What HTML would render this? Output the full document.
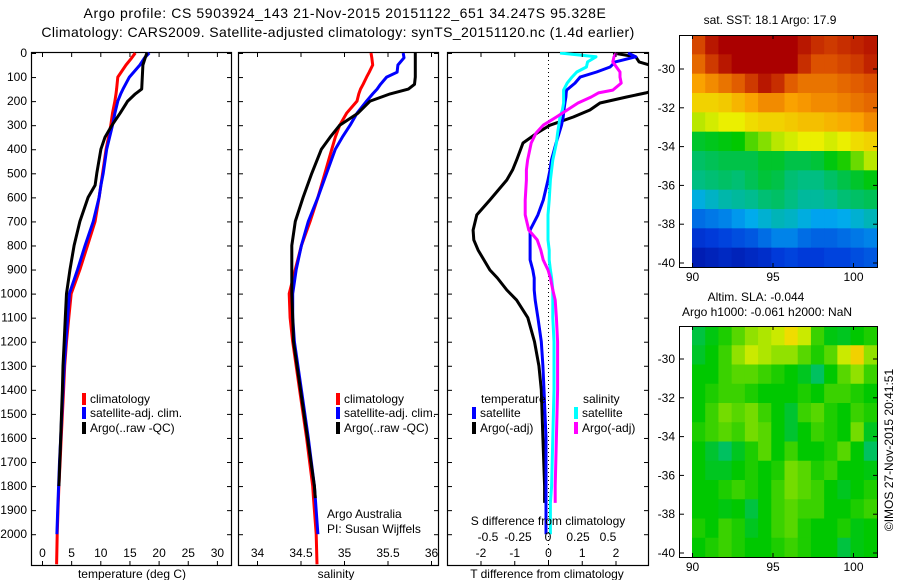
<!DOCTYPE html>
<html><head><meta charset="utf-8"><style>
body{margin:0;background:#fff;width:900px;height:580px;overflow:hidden}
svg{display:block;font-family:"Liberation Sans",sans-serif}
</style></head><body>
<svg id="c" width="900" height="580" viewBox="0 0 900 580"></svg>
<script>
// ---------------- DATA ----------------
const depthT = [0,20,50,100,150,170,200,250,300,350,400,500,550,600,700,800,900,1000,1100,1200,1300,1400,1500,1600,1700,1800,1900,2000,2125];
const tempClim = [16,15.4,14.4,13,12.8,12.7,12.5,12.1,11.8,11.4,11,10.4,10.1,9.8,9.1,7.8,6.5,5.0,4.6,4.2,3.9,3.7,3.5,3.3,3.1,2.9,2.75,2.6,2.5];
const tempSat = [18.4,17.6,16.8,15,13.9,13.5,13,12.5,12.1,11.6,11.1,10.5,10.1,9.8,8.8,7.4,6.1,4.7,4.4,4.1,3.8,3.6,3.4,3.2,3.0,2.85,2.7,2.55,null];
const tempArgo = [18,17.7,17.3,17.2,17.1,16,14.7,13.4,12,10.8,10.1,9.4,9.1,7.9,6.5,5.5,4.8,4.2,4.0,3.8,3.6,3.5,3.35,3.2,3.05,2.9,null,null,null];
const depthS = [0,20,50,80,100,130,150,170,200,250,300,350,400,500,600,700,800,900,1000,1100,1200,1400,1600,1800,1850,2000,2125];
const salClim = [35.31,35.32,35.33,35.29,35.26,35.22,35.19,35.17,35.15,35.03,34.95,34.9,34.86,34.78,34.70,34.61,34.51,34.44,34.37,34.38,34.41,34.49,34.57,34.64,34.65,34.68,34.69];
const salSat = [35.68,35.69,35.62,35.61,35.49,35.42,35.38,35.33,35.26,35.15,35.07,34.98,34.9,34.80,34.70,34.59,34.51,34.45,34.41,34.41,34.43,34.51,34.59,34.66,34.67,34.7,null];
const salArgo = [35.82,35.82,35.82,35.82,35.82,35.81,35.74,35.53,35.3,35.16,34.95,34.84,34.74,34.63,34.53,34.44,34.40,34.40,34.40,34.41,34.42,34.5,34.58,34.66,34.67,null,null];
const depthD = [0,16,37,58,79,100,125,154,166,183,208,237,266,300,333,374,445,486,528,611,673,736,777,819,860,902,935,985,1027,1100,1200,1300,1400,1600,1800,1870,2000];
const dTArgo = [1.93,2.6,2.7,3.2,3.5,3.5,3.4,3.2,2.9,2.33,1.54,1.24,0.75,0.06,-0.33,-0.74,-0.93,-1.05,-1.22,-1.72,-2.11,-2.22,-2.2,-2.07,-1.9,-1.72,-1.5,-1.22,-0.93,-0.6,-0.4,-0.27,-0.2,-0.15,-0.1,-0.1,null];
const dTSat = [2.37,2.6,1.99,1.84,1.44,0.95,0.8,0.55,0.54,0.53,0.5,0.47,0.45,0.4,0.33,0.24,0.1,0.06,0.0,-0.14,-0.3,-0.53,-0.53,-0.53,-0.53,-0.45,-0.41,-0.41,-0.38,-0.3,-0.2,-0.15,-0.12,-0.06,-0.06,-0.06,-0.06];
const dSSat = [0.1,0.4,0.33,0.32,0.24,0.2,0.16,0.13,0.13,0.13,0.13,0.12,0.1,0.09,0.08,0.07,0.04,0.03,0.02,0.01,0.0,0.0,0.0,0.01,0.01,0.02,0.03,0.04,0.04,0.04,0.05,0.05,0.05,0.04,0.03,0.02,0.02];
const dSArgo = [0.57,0.55,0.54,0.57,0.6,0.6,0.61,0.54,0.42,0.36,0.25,0.16,0.07,-0.04,-0.1,-0.14,-0.17,-0.18,-0.18,-0.19,-0.19,-0.16,-0.09,-0.06,-0.04,0.0,0.02,0.04,0.06,0.07,0.08,0.08,0.08,0.07,0.06,0.06,null];
const depthTicks = [0,100,200,300,400,500,600,700,800,900,1000,1100,1200,1300,1400,1500,1600,1700,1800,1900,2000];
const tempTicks = [0,5,10,15,20,25,30];
const salTicks = [34,34.5,35,35.5,36];
const salTickLabels = ["34","34.5","35","35.5","36"];
const dTTicks = [-2,-1,0,1,2];
const dSTicks = [-0.5,-0.25,0,0.25,0.5];
const dSTickLabels = ["-0.5","-0.25","0","0.25","0.5"];
const latTicks = [-30,-32,-34,-36,-38,-40];
const lonTicks = [90,95,100];
// SST grid (rows top->bottom, 14 cols from 90E)
const sstGrid = [
[18.6,19,19.3,19.5,19.5,19.5,19.5,19.3,19,18.8,18.7,18.8,18.9,19],
[18.3,18.7,19,19.3,19.5,19.5,19.5,19.2,18.8,18.5,18.5,18.6,18.7,18.9],
[17.8,18,18.2,18.4,18.7,19,18.8,18.4,18.2,18.2,18.2,18.3,18.4,18.5],
[17.3,17.3,17.4,17.6,17.8,18,18,17.8,17.9,18,18,18.1,18.2,18.3],
[16.8,16.9,17,17,17.2,17.3,17.3,17.4,17.5,17.5,17.6,17.7,17.8,18],
[15.8,15.9,16,16.1,16.4,16.6,16.8,16.9,17,17,16.9,17,17.2,17.3],
[15.4,15.5,15.6,15.6,15.6,15.8,15.8,15.6,15.6,15.7,16,16.2,16.5,16.8],
[15.2,15.3,15.4,15.3,15.5,15.7,15.6,15.3,15.2,15.2,15.4,15.6,15.8,16],
[14.5,14.7,14.9,15,15.1,15.3,15.4,15.2,15,15,15.1,15.3,15.4,15.5],
[13.8,13.9,14,14.2,14.4,14.6,14.8,14.7,14.5,14.3,14.3,14.4,14.6,14.8],
[13.2,13.3,13.4,13.5,13.6,13.8,14,14,13.8,13.7,13.7,13.8,13.9,14],
[12.8,12.9,13,12.9,13,13.1,13.3,13.4,13.3,13.3,13.4,13.4,13.5,13.6]];
// SLA grid in cm
const slaGrid = [
[-8,-2,2,6,10,12,14,20,14,4,-2,-4,0,2],
[-5,0,4,10,14,12,10,10,6,2,6,14,22,10],
[0,0,4,6,6,4,2,0,-4,-12,0,6,10,4],
[0,2,4,4,2,0,0,0,2,0,4,4,2,0],
[0,4,8,6,8,4,0,-6,4,6,2,0,4,2],
[2,4,6,4,8,6,0,-6,0,4,2,0,8,-4],
[0,-6,-12,-4,2,6,0,4,0,0,2,6,0,-12],
[0,-4,-4,0,2,0,2,8,6,2,4,0,0,-2],
[0,0,2,4,2,0,4,8,6,4,0,-4,0,2],
[0,0,-2,0,-8,0,4,6,4,4,0,0,2,4],
[2,0,4,2,-4,0,4,6,2,0,0,2,-2,0],
[0,2,4,2,0,0,2,4,2,0,0,-8,-2,0]];

// ---------------- HELPERS ----------------
const svg = document.getElementById('c');
const NS = 'http://www.w3.org/2000/svg';
function el(tag, attrs, parent){ const e=document.createElementNS(NS,tag); for(const k in attrs) e.setAttribute(k,attrs[k]); (parent||svg).appendChild(e); return e; }
function txt(x,y,s,anchor,size,parent){ const t=el('text',{x:x,y:y,'text-anchor':anchor||'middle','font-size':size||12,fill:'#000'},parent); t.textContent=s; return t; }
const yD = d => 53 + d*0.2406;
const TOP=52, BOT=565;

function panel(name,x0,x1){
  const g=el('g',{});
  
  
  el('rect',{x:x0+0.5,y:TOP+0.5,width:x1-x0,height:BOT-TOP,fill:'none',stroke:'#000','stroke-width':1.2},g);
  depthTicks.forEach(d=>{ const y=yD(d)+0.5;
    el('line',{x1:x0,y1:y,x2:x0+5,y2:y,stroke:'#000'},g);
    el('line',{x1:x1-4,y1:y,x2:x1,y2:y,stroke:'#000'},g); });
  return g;
}
function line(g,name,xs,ds,xf,color){
  let pts=[];
  xs.forEach((v,i)=>{ if(v!==null) pts.push(xf(v).toFixed(1)+','+yD(ds[i]).toFixed(1)); });
  const p=el('polyline',{points:pts.join(' '),fill:'none',stroke:color,'stroke-width':3,'stroke-linejoin':'round'},g);
  
  
}
function xticks(g,ticks,labels,xf,x0,x1,ly){
  ticks.forEach((v,i)=>{ const x=xf(v)+0.5;
    el('line',{x1:x,y1:TOP,x2:x,y2:TOP+5,stroke:'#000'},g);
    el('line',{x1:x,y1:BOT-4,x2:x,y2:BOT,stroke:'#000'},g);
    const t=txt(x,ly,labels?labels[i]:String(v),'middle',12,g);
    
     });
}
function legendEntry(g,x,y,color,label){
  el('rect',{x:x,y:y-10,width:4,height:12,fill:color},g);
  const t=txt(x+8,y,label,'start',12,g);
  
  
}

// ---------------- TITLE ----------------
const t1=txt(345,18,'Argo profile: CS 5903924_143 21-Nov-2015 20151122_651 34.247S 95.328E','middle',14);
t1.setAttribute('letter-spacing','0.6');


const t2=txt(338,37,'Climatology: CARS2009. Satellite-adjusted climatology: synTS_20151120.nc (1.4d earlier)','middle',14);
t2.setAttribute('letter-spacing','0.4');



// depth labels
depthTicks.forEach(d=>{ const t=txt(27,yD(d)+4,String(d),'end',12);
  
   });

// ---------------- PANEL 1 ----------------
const xT = v => 42 + v*5.83;
const p1=panel('temperature-panel',31,231);
line(p1,'temp-climatology-line',tempClim,depthT,xT,'#f00');
line(p1,'temp-satellite-line',tempSat,depthT,xT,'#00f');
line(p1,'temp-argo-line',tempArgo,depthT,xT,'#000');
xticks(p1,tempTicks,null,xT,31,231,557);
const a1=txt(132,578,'temperature (deg C)','middle',12,p1);


legendEntry(p1,82,403,'#f00','climatology');
legendEntry(p1,82,417,'#00f','satellite-adj. clim.');
legendEntry(p1,82,432,'#000','Argo(..raw -QC)');

// ---------------- PANEL 2 ----------------
const xS = v => 257 + (v-34)*87;
const p2=panel('salinity-panel',238,438);
line(p2,'sal-climatology-line',salClim,depthS,xS,'#f00');
line(p2,'sal-satellite-line',salSat,depthS,xS,'#00f');
line(p2,'sal-argo-line',salArgo,depthS,xS,'#000');
xticks(p2,salTicks,salTickLabels,xS,238,438,557);
const a2=txt(336,578,'salinity','middle',12,p2);


legendEntry(p2,336,403,'#f00','climatology');
legendEntry(p2,336,417,'#00f','satellite-adj. clim.');
legendEntry(p2,336,432,'#000','Argo(..raw -QC)');
txt(327,518,'Argo Australia','start',12,p2);
txt(327,533,'PI: Susan Wijffels','start',12,p2);

// ---------------- PANEL 3 ----------------
const xDS = v => 548 + v*120;
const p3=panel('difference-panel',447,648);
const clip=el('clipPath',{id:'cp3'});
el('rect',{x:448,y:TOP,width:200,height:BOT-TOP},clip);
el('line',{x1:548.5,y1:TOP,x2:548.5,y2:BOT,stroke:'#000','stroke-dasharray':'1,3'},p3);
const g3=el('g',{'clip-path':'url(#cp3)'},p3);
line(g3,'dt-argo-line',dTArgo,depthD,v=>548+v*33.75,'#000');
line(g3,'dt-satellite-line',dTSat,depthD,v=>548+v*33.75,'#00f');
line(g3,'ds-satellite-line',dSSat,depthD,xDS,'#0ff');
line(g3,'ds-argo-line',dSArgo,depthD,xDS,'#f0f');
xticks(p3,dTTicks,null,v=>548+v*33.75,447,648,557);
dSTicks.forEach((v,i)=>{ const t=txt(xDS(v),541,dSTickLabels[i],'middle',12,p3);
  
   });
txt(548,525,'S difference from climatology','middle',12,p3);
const a3=txt(547,578,'T difference from climatology','middle',12,p3);


txt(481,403,'temperature','start',12,p3);
txt(583,403,'salinity','start',12,p3);
legendEntry(p3,472,417,'#00f','satellite');
legendEntry(p3,472,432,'#000','Argo(-adj)');
legendEntry(p3,574,417,'#0ff','satellite');
legendEntry(p3,574,432,'#f0f','Argo(-adj)');

// ---------------- MAPS ----------------
const stops=[[0,[0,0,140]],[0.15,[0,60,220]],[0.3,[0,170,240]],[0.42,[0,190,130]],[0.55,[0,200,0]],[0.68,[235,240,0]],[0.8,[250,160,0]],[0.9,[220,80,0]],[1,[170,0,0]]];
function cmap(t){ t=Math.max(0,Math.min(1,t));
  for(let i=1;i<stops.length;i++){ if(t<=stops[i][0]){ const a=stops[i-1],b=stops[i]; const f=(t-a[0])/(b[0]-a[0]);
    const c=a[1].map((v,k)=>Math.round(v+(b[1][k]-v)*f)); return 'rgb('+c.join(',')+')'; } }
  return 'rgb(170,0,0)'; }
function map(name,grid,norm,top,bottom,lat30,lat40){
  const g=el('g',{});
  
  
  const xL = lon => 692 + (lon-90)*16.1;
  const yL = lat => lat30 + (lat+30)/(-10)*(lat40-lat30);
  const rows=grid.length, cols=grid[0].length, x0=692, x1=877;
  const cw=(x1-x0)/cols, rh=(bottom-top)/rows;
  grid.forEach((row,r)=>row.forEach((v,c)=>{
    const cell=el('rect',{x:(x0+c*cw).toFixed(2),y:(top+r*rh).toFixed(2),width:(cw+0.6).toFixed(2),height:(rh+0.6).toFixed(2),fill:cmap(norm(v))},g);
    
    
  }));
  el('rect',{x:679.5,y:top+0.5,width:198,height:bottom-top,fill:'none',stroke:'#000'},g);
  latTicks.forEach(l=>{ const y=yL(l);
    el('line',{x1:679,y1:y,x2:684,y2:y,stroke:'#000'},g);
    el('line',{x1:873,y1:y,x2:878,y2:y,stroke:'#000'},g);
    const t=txt(675,y+4,String(l),'end',12,g);
    
     });
  lonTicks.forEach(l=>{ const x=xL(l)+0.5;
    el('line',{x1:x,y1:top,x2:x,y2:top+4,stroke:'#000'},g);
    el('line',{x1:x,y1:bottom-4,x2:x,y2:bottom,stroke:'#000'},g);
    const t=txt(x,bottom+14,String(l),'middle',12,g);
    
     });
  return g;
}
map('sst-map',sstGrid,v=>(v-12.3)/6.9,35,267,69,263);
const m1=txt(770,24,'sat. SST: 18.1  Argo: 17.9','middle',12);


map('sla-map',slaGrid,v=>0.55+v*0.008,326,557,359,553);
const m2=txt(756,301,'Altim. SLA: -0.044','middle',12);


txt(767,316,'Argo h1000: -0.061 h2000: NaN','middle',12);
const cr=txt(0,0,'©IMOS 27-Nov-2015 20:41:51','middle',12);
cr.setAttribute('transform','translate(893,450) rotate(-90)');


</script>
</body></html>
